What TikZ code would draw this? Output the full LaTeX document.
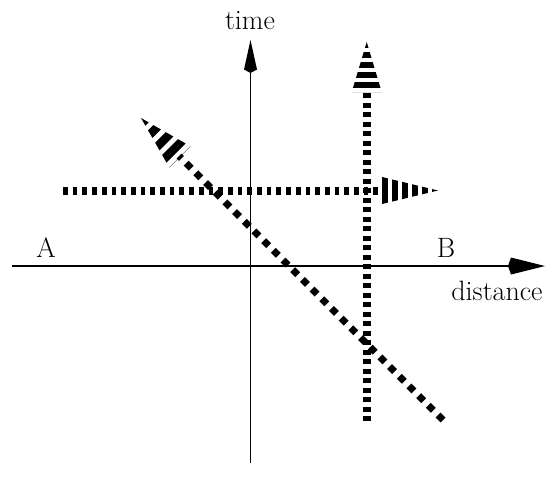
\documentclass[tikz,border=0pt]{standalone}
\begin{document}
\begin{tikzpicture}[x=1pt,y=-1pt,
  axis/.style={line width=1.3pt, black},
  lbl/.style={font=\fontsize{28}{34}\selectfont, anchor=base, inner sep=0pt},
  hdash/.style={line width=8pt, dash pattern=on 4.7pt off 5pt},
  vdash/.style={line width=8pt, dash pattern=on 5pt off 4.5pt},
  ddash/.style={line width=7pt, dash pattern=on 7pt off 6.7pt},
  headstripe/.style={line width=50pt, dash pattern=on 6pt off 4pt},
  dheadstripe/.style={line width=50pt, dash pattern=on 8.5pt off 5.2pt}]
\useasboundingbox (0,0) rectangle (554,491);
% axes
\coordinate (xs) at (12,266);
\coordinate (xb) at (509,266);
\coordinate (xe) at (545,266);
\coordinate (ys) at (250.5,463);
\coordinate (yb) at (250.5,72);
\coordinate (ye) at (250.5,40);
\draw[axis] (xs) -- (xb);
\fill (xe) -- (511,257.5) -- (508,266) -- (511,274.5) -- cycle;
\draw[axis] (ys) -- (yb);
\fill (ye) -- (244,69.5) -- (250.5,73) -- (257,69.5) -- cycle;
% labels
\node[lbl] (time) at (250,29.3) {time};
\node[lbl] (dist) at (497,300) {distance};
\node[lbl] (A) at (46,257) {A};
\node[lbl] (B) at (446,257) {B};
% horizontal dotted arrow
\coordinate (hs) at (63,190.5);
\coordinate (hb) at (382,190.5);
\coordinate (ht) at (438,190.5);
\draw[hdash] (hs) -- (hb);
\begin{scope}
  \clip (ht) -- (380,176.5) -- (380,204.5) -- cycle;
  \draw[headstripe] (ht) -- (hs);
\end{scope}
% vertical dotted arrow
\coordinate (vs) at (366.7,421);
\coordinate (vb) at (366.7,90);
\coordinate (vt) at (366.7,42);
\draw[vdash] (vs) -- (vb);
\begin{scope}
  \clip (vt) -- (351.7,92) -- (381.7,92) -- cycle;
  \draw[headstripe] (vt) -- (vs);
\end{scope}
% diagonal dotted arrow
\coordinate (ds) at (443,420);
\coordinate (db) at (179,156);
\coordinate (dt) at (141,118);
\draw[ddash] (ds) -- (db);
\begin{scope}
  \clip (dt) -- (190.5,146.3) -- (169.3,167.5) -- cycle;
  \draw[dheadstripe] (dt) -- (ds);
\end{scope}
\end{tikzpicture}
\end{document}
